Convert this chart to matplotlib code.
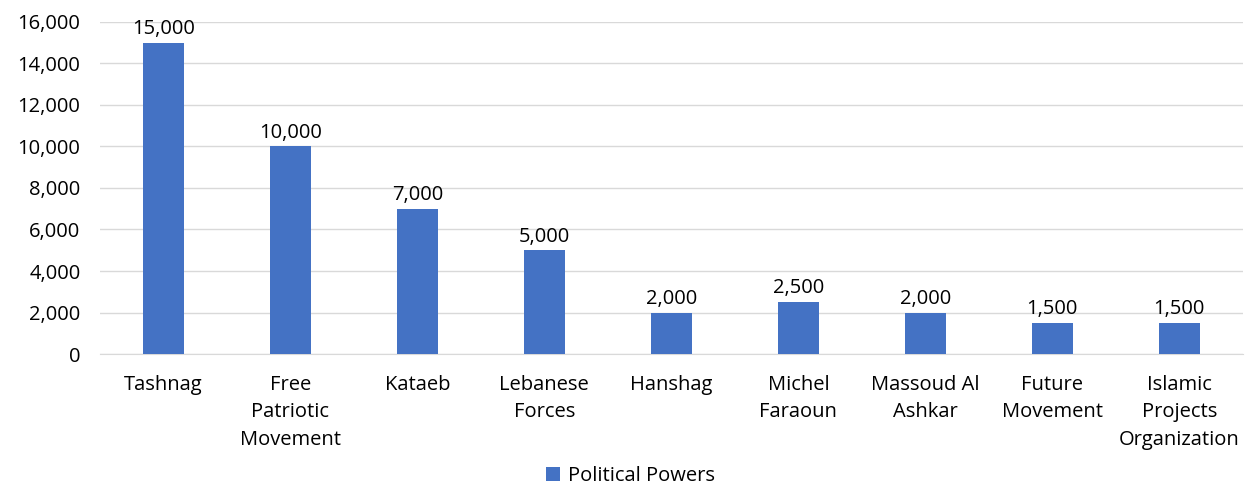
import matplotlib
matplotlib.use("Agg")
import matplotlib.pyplot as plt
from matplotlib.ticker import FuncFormatter, MultipleLocator

categories = ["Tashnag", "Free\nPatriotic\nMovement", "Kataeb", "Lebanese\nForces", "Hanshag",
              "Michel\nFaraoun", "Massoud Al\nAshkar", "Future\nMovement", "Islamic\nProjects\nOrganization"]
values = [15000, 10000, 7000, 5000, 2000, 2500, 2000, 1500, 1500]
series_name = "Political Powers"

plt.rcParams['font.family'] = ['Open Sans', 'DejaVu Sans']
FS = 14.5
fig = plt.figure(figsize=(12.49, 4.87), dpi=100)
ax = fig.add_axes([0.080, 0.273, 0.915, 0.682])
x = list(range(len(categories)))
ax.bar(x, values, width=0.32, color="#4472C4", label=series_name, zorder=3)
for xi, v in zip(x, values):
    ax.text(xi, v + 180, f"{v:,}", ha="center", va="bottom", fontsize=FS, color="#000000")
ax.set_xlim(-0.5, len(categories) - 0.5)
ax.set_ylim(0, 16000)
ax.yaxis.set_major_locator(MultipleLocator(2000))
ax.yaxis.set_major_formatter(FuncFormatter(lambda v, p: f"{int(v):,}"))
ax.grid(axis="y", color="#D9D9D9", linewidth=1, zorder=0)
for s in ["top", "right", "left"]:
    ax.spines[s].set_visible(False)
ax.spines["bottom"].set_color("#D9D9D9")
ax.set_xticks(x)
ax.set_xticklabels(categories, fontsize=FS, linespacing=1.5, va="top")
ax.tick_params(axis="both", length=0, labelsize=FS)
ax.tick_params(axis="x", pad=15)
ax.tick_params(axis="y", pad=14)
fig.legend(loc="lower center", bbox_to_anchor=(0.505, 0.002), frameon=False, fontsize=FS,
           borderpad=0, borderaxespad=0,
           handlelength=0.7, handleheight=0.7, handletextpad=0.4)
fig.savefig("out.png", dpi=100)
